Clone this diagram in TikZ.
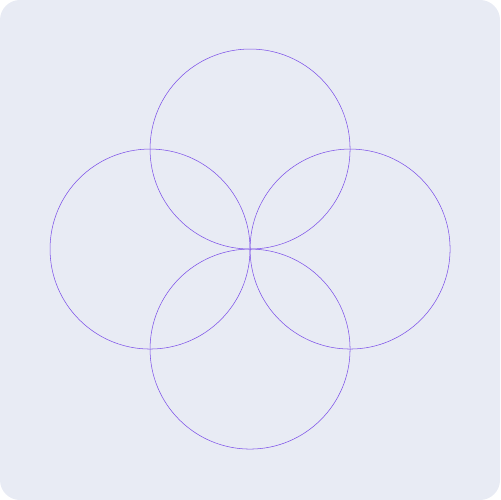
\documentclass[tikz,border=0pt]{standalone}
\usepackage{tikz}
\usetikzlibrary{calc}
\definecolor{bgpanel}{HTML}{E8EBF4}
\definecolor{ringline}{HTML}{7B4FE8}

\begin{document}
\begin{tikzpicture}[scale=0.02]
\coordinate (T) at (250,-149);
\coordinate (L) at (150,-249);
\coordinate (R) at (350,-249);
\coordinate (B) at (250,-349);

  \fill[color=bgpanel, rounded corners=0.4cm] (0,0) rectangle (500,-500);
  \useasboundingbox (0,0) rectangle (500,-500);

   \draw[color=ringline, line width=0.3pt] (T) circle (100);
   \draw[color=ringline, line width=0.3pt] (L) circle (100);
   \draw[color=ringline, line width=0.3pt] (R) circle (100);
   \draw[color=ringline, line width=0.3pt] (B) circle (100);
   \end{tikzpicture}
\end{document}
